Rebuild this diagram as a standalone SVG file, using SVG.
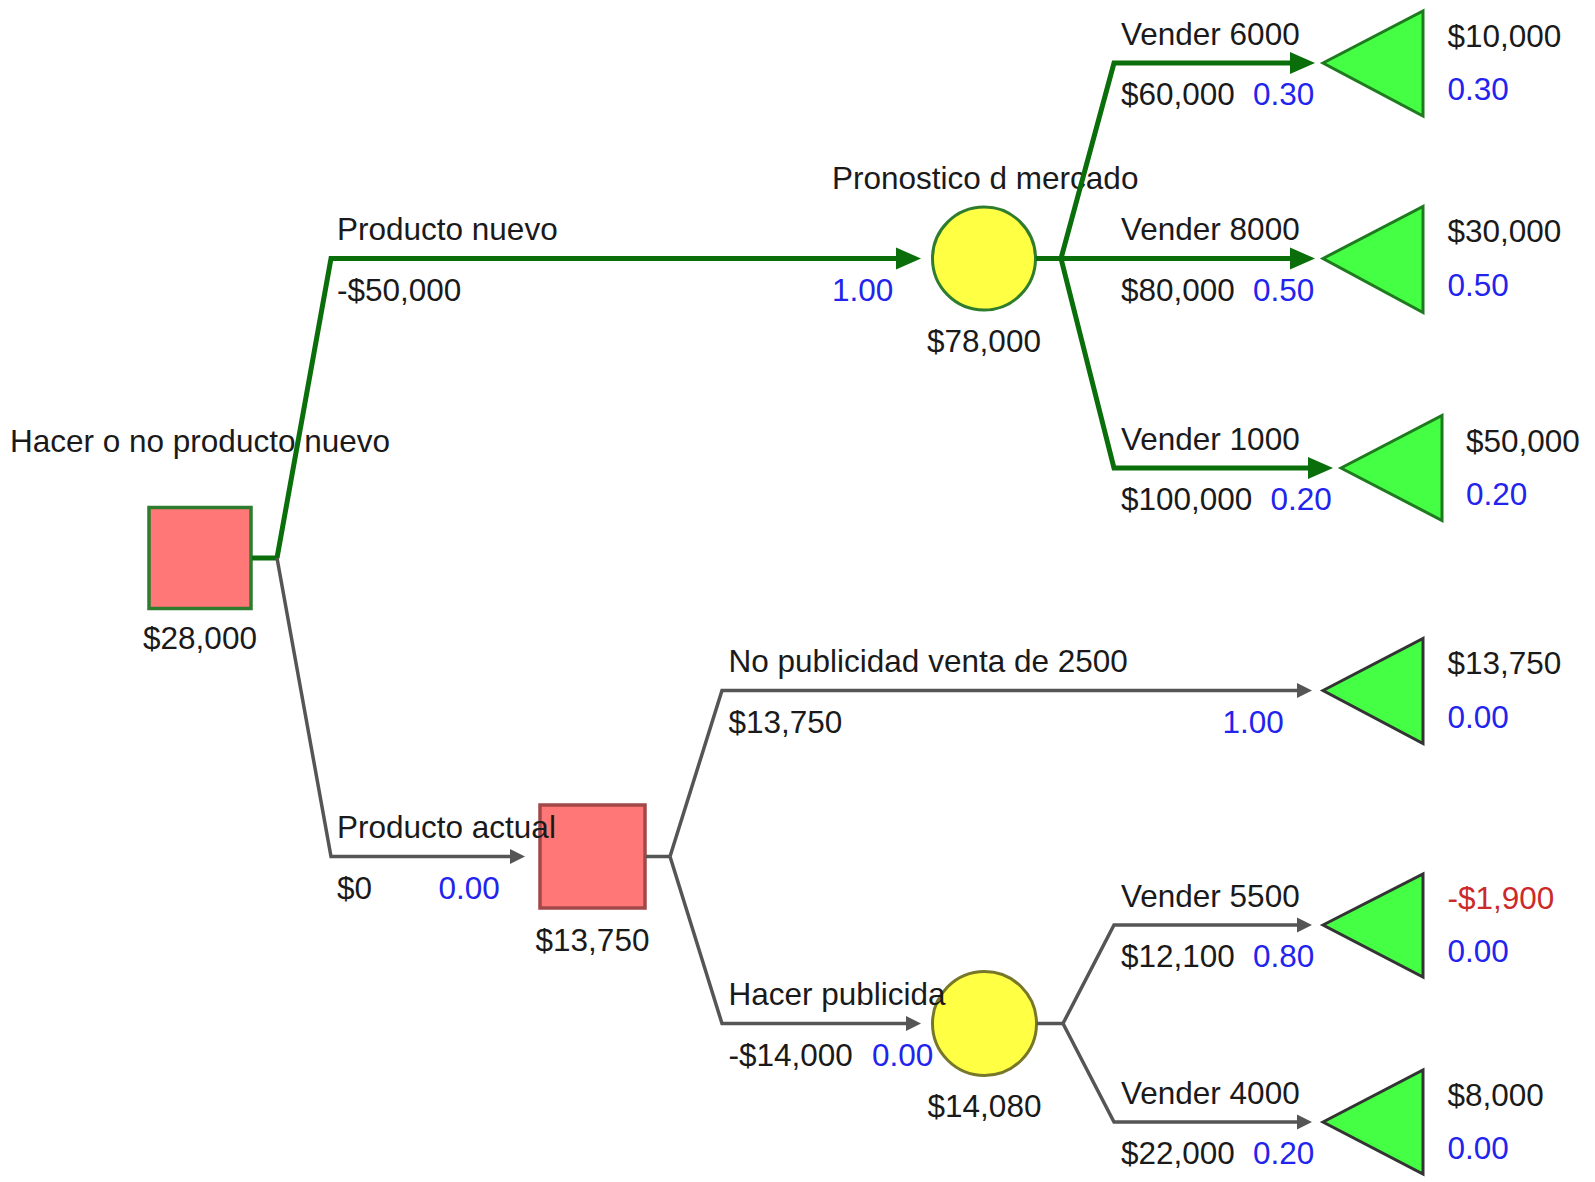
<svg xmlns="http://www.w3.org/2000/svg" width="1595" height="1182" viewBox="0 0 1595 1182">
<style>
text{font-family:"Liberation Sans",Arial,sans-serif;font-size:31.5px;fill:#1a1a1a}
.p{fill:#2323ee}
.neg{fill:#cc2a2a}
.mid{text-anchor:middle}
.cg{fill:none;stroke:#0a6e0a;stroke-width:5;stroke-linejoin:miter}
.cy{fill:none;stroke:#555;stroke-width:3.5;stroke-linejoin:miter}
.dec{fill:#ff7777;stroke-width:3.5}
.chance{fill:#ffff44;stroke-width:3}
.term{fill:#44ff44;stroke-width:3;stroke-linejoin:miter}
</style>
<defs>
<marker id="ag" markerUnits="userSpaceOnUse" markerWidth="26" markerHeight="24" refX="0" refY="12" orient="auto" overflow="visible"><path d="M0,1 L25,12 L0,23 Z" fill="#0a6e0a"/></marker>
<marker id="ay" markerUnits="userSpaceOnUse" markerWidth="16" markerHeight="24" refX="0" refY="12" orient="auto" overflow="visible"><path d="M0,4.5 L15,12 L0,19.5 Z" fill="#555"/></marker>
</defs>

<g id="n-root">
<text x="10" y="451.5">Hacer o no producto nuevo</text>
<rect class="dec" x="149" y="507.5" width="102" height="101" stroke="#2e7d2e"/>
<text class="mid" x="200" y="649">$28,000</text>
</g>

<g id="n-pronostico">
<text x="832" y="188.5">Pronostico d mercado</text>
<circle class="chance" cx="984" cy="258.5" r="51.5" stroke="#2e7d2e"/>
<text class="mid" x="984" y="352">$78,000</text>
</g>

<g id="n-actual">
<rect class="dec" x="540" y="805" width="105" height="103" stroke="#a34848" stroke-width="3"/>
<text class="mid" x="592.5" y="950.5">$13,750</text>
</g>

<g id="n-publicidad">
<circle class="chance" cx="984.5" cy="1023.5" r="52" stroke="#77772a" stroke-width="2.5"/>
<text class="mid" x="984.5" y="1116.5">$14,080</text>
</g>

<g id="t-6000">
<polygon class="term" points="1323,63 1423,11 1423,116" stroke="#1f7a1f"/>
<text x="1447.5" y="46.5">$10,000</text>
<text class="p" x="1447.5" y="100">0.30</text>
</g>
<g id="t-8000">
<polygon class="term" points="1323,258.5 1423,206.5 1423,312.5" stroke="#1f7a1f"/>
<text x="1447.5" y="242">$30,000</text>
<text class="p" x="1447.5" y="295.5">0.50</text>
</g>
<g id="t-1000">
<polygon class="term" points="1341,468 1442,415.5 1442,520.5" stroke="#1f7a1f"/>
<text x="1466" y="451.5">$50,000</text>
<text class="p" x="1466" y="505">0.20</text>
</g>
<g id="t-nopub">
<polygon class="term" points="1323,690.5 1423,638.5 1423,743.5" stroke="#333" stroke-width="2.5"/>
<text x="1447.5" y="674">$13,750</text>
<text class="p" x="1447.5" y="727.5">0.00</text>
</g>
<g id="t-5500">
<polygon class="term" points="1323,925 1423,874 1423,977" stroke="#333" stroke-width="2.5"/>
<text class="neg" x="1447.5" y="908.5">-$1,900</text>
<text class="p" x="1447.5" y="962">0.00</text>
</g>
<g id="t-4000">
<polygon class="term" points="1323,1122 1423,1070 1423,1174" stroke="#333" stroke-width="2.5"/>
<text x="1447.5" y="1105.5">$8,000</text>
<text class="p" x="1447.5" y="1159">0.00</text>
</g>

<g id="connectors">
<path class="cg" d="M252,558 L277,558"/>
<path class="cg" d="M277,558 L331,258.5 L896,258.5" marker-end="url(#ag)"/>
<path class="cg" d="M1036,258.5 L1061,258.5"/>
<path class="cg" d="M1061,258.5 L1114,63 L1290,63" marker-end="url(#ag)"/>
<path class="cg" d="M1061,258.5 L1290,258.5" marker-end="url(#ag)"/>
<path class="cg" d="M1061,258.5 L1114,468 L1308,468" marker-end="url(#ag)"/>
<path class="cy" d="M277,558 L331,856.5 L510,856.5" marker-end="url(#ay)"/>
<path class="cy" d="M646,856.5 L670,856.5"/>
<path class="cy" d="M670,856.5 L722,690.5 L1297,690.5" marker-end="url(#ay)"/>
<path class="cy" d="M670,856.5 L722,1023.5 L906,1023.5" marker-end="url(#ay)"/>
<path class="cy" d="M1037,1023.5 L1063,1023.5"/>
<path class="cy" d="M1063,1023.5 L1114,925 L1297,925" marker-end="url(#ay)"/>
<path class="cy" d="M1063,1023.5 L1114,1122 L1297,1122" marker-end="url(#ay)"/>
</g>

<g id="labels">
<text x="337" y="240">Producto nuevo</text>
<text x="337" y="300.5">-$50,000</text>
<text class="p" x="832" y="300.5">1.00</text>
<text x="1121" y="44.5">Vender 6000</text>
<text x="1121" y="105">$60,000</text>
<text class="p" x="1253" y="105">0.30</text>
<text x="1121" y="240">Vender 8000</text>
<text x="1121" y="300.5">$80,000</text>
<text class="p" x="1253" y="300.5">0.50</text>
<text x="1121" y="449.5">Vender 1000</text>
<text x="1121" y="510">$100,000</text>
<text class="p" x="1270.5" y="510">0.20</text>
<text x="337" y="838">Producto actual</text>
<text x="337" y="898.5">$0</text>
<text class="p" x="438.5" y="898.5">0.00</text>
<text x="728.5" y="672">No publicidad venta de 2500</text>
<text x="728.5" y="732.5">$13,750</text>
<text class="p" x="1222.5" y="732.5">1.00</text>
<text x="728.5" y="1005">Hacer publicida</text>
<text x="728.5" y="1065.5">-$14,000</text>
<text class="p" x="872" y="1065.5">0.00</text>
<text x="1121" y="906.5">Vender 5500</text>
<text x="1121" y="967">$12,100</text>
<text class="p" x="1253" y="967">0.80</text>
<text x="1121" y="1103.5">Vender 4000</text>
<text x="1121" y="1164">$22,000</text>
<text class="p" x="1253" y="1164">0.20</text>
</g>
</svg>
